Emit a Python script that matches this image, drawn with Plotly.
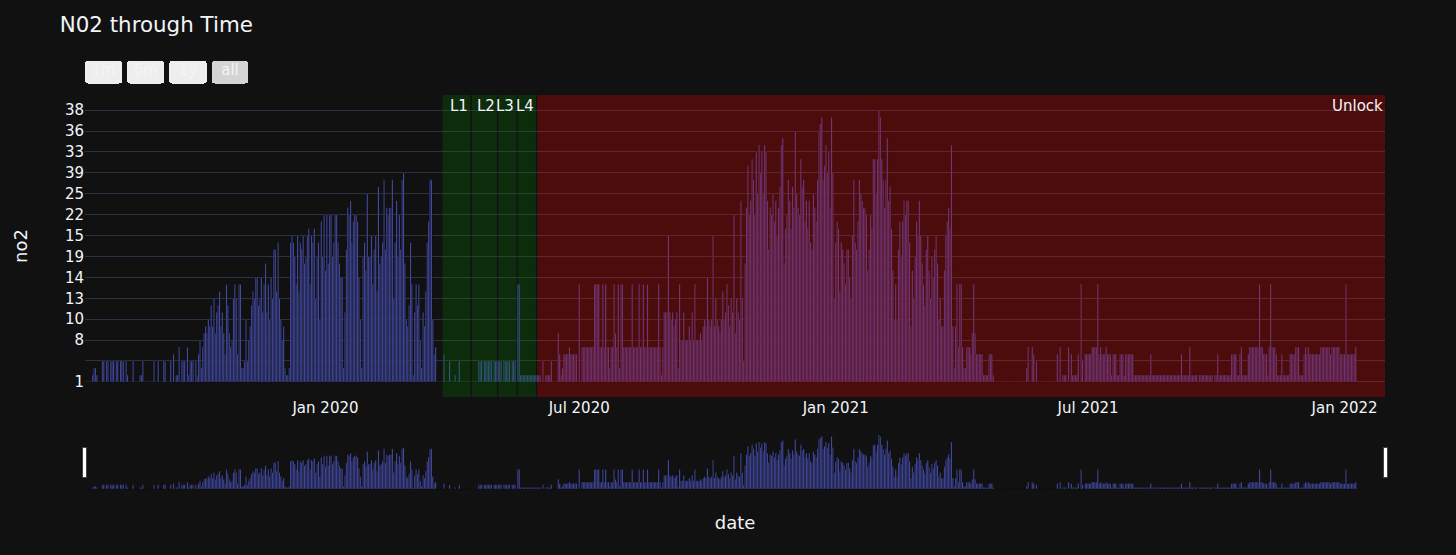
import pandas as pd
import plotly.graph_objects as go

# y categories in order of first appearance (category axis); index 3 is a blank category
categories = ["1", "2", "4", " ", "5", "6", "8", "7", "9", "10", "11", "12", "13", "16",
              "17", "14", "18", "20", "19", "21", "23", "15", "24", "26", "22", "27", "28",
              "25", "29", "30", "39", "31", "32", "33", "34", "35", "36", "37", "40", "38"]

start_date = "2019-07-13"

# daily no2 readings, stored as category index
no2_idx = [
    0,0,0,0,0,1,2,2,1,0, 0,0,3,3,0,3,3,0,3,3, 3,0,3,3,0,3,3,3,0,3, 1,0,0,0,3,0,0,0,0,1,
    1,3,0,0,0,0,0,0,0,3, 0,0,3,0,0,0,3,3,0,0, 0,3,0,4,0,1,1,5,0,3, 3,3,0,5,1,3,3,3,0,3,
    1,4,6,2,5,7,8,7,9,8, 11,8,12,7,10,11,13,8,10,7, 4,14,11,7,5,6,12,14,12,4,
    14,14,2,2,3,9,3,6,8,11, 13,12,15,15,11,12,15,10,14,17, 10,14,9,15,12,19,19,13,20,12,
    9,6,8,2,1,1,2,20,21,20, 18,14,21,13,20,19,21,17,18,21, 22,14,21,20,22,12,18,20,9,23,
    18,24,16,24,17,24,24,18,20,24, 24,20,17,15,15,2,10,19,25,24, 26,20,23,24,24,23,15,9,2,18,
    20,16,27,18,18,21,14,19,21,13, 28,17,18,20,29,19,25,24,25,25, 29,12,20,26,18,24,19,29,30,17,
    9,8,11,20,14,1,10,14,11,14, 6,2,10,8,13,20,23,29,29,9, 4,5,0,0,0,0,0,4,0,0,
    0,3,0,0,0,1,0,0,3,0, 0,0,0,0,0,0,0,0,0,0, 0,0,3,3,3,0,3,3,3,3,
    3,3,0,3,3,3,3,3,3,0, 3,3,3,3,3,0,3,3,3,0, 14,14,1,1,1,1,1,1,1,1,
    1,1,1,1,1,1,1,0,3,0, 1,1,1,1,3,0,0,0,0,7, 4,1,2,4,4,4,4,5,4,4,
    4,4,4,0,14,0,5,5,5,5, 5,5,5,5,5,14,14,14,14,5, 5,14,5,14,5,5,2,5,5,14,
    7,5,14,2,14,14,5,5,5,5, 5,5,14,5,5,5,5,14,5,5, 14,5,5,14,5,5,5,5,5,5,
    5,14,5,1,5,10,10,10,21,10, 9,10,8,9,10,2,14,6,6,10, 6,6,6,8,6,10,6,14,6,6,
    6,7,6,8,9,8,15,9,8,9, 21,8,12,9,8,7,9,13,9,10, 14,11,8,12,10,24,7,12,10,9,
    26,12,3,17,25,31,24,26,32,29, 24,33,27,34,30,33,27,34,33,26, 19,25,24,27,23,26,21,25,28,34,
    35,17,22,24,29,26,22,28,25,36, 27,25,24,32,28,29,23,26,22,26, 20,19,27,25,23,29,36,37,38,29,
    31,34,30,33,25,38,30,12,20,23, 22,13,20,19,17,14,19,19,15,12, 21,29,20,19,23,29,27,26,25,25,
    24,16,19,24,22,32,32,27,32,39, 38,32,29,25,29,35,26,28,22,16, 9,14,9,19,23,18,23,26,24,26,
    26,20,8,16,12,18,23,21,26,21, 17,14,11,19,21,16,12,18,15,19, 21,17,9,12,8,8,16,21,23,25,
    22,34,8,2,8,14,5,14,14,5, 2,2,5,5,5,4,7,14,7,4, 4,4,4,4,1,1,1,1,4,4,
    4,1,0,0,0,0,0,0,0,0, 0,0,0,0,0,0,0,0,0,0, 0,0,0,0,0,2,5,0,0,5,
    4,0,3,0,0,0,0,0,0,0, 0,0,0,0,0,0,0,4,0,5, 0,1,1,1,0,5,0,4,1,1,
    1,1,4,0,14,3,0,4,4,4, 4,4,5,5,5,5,14,4,5,4, 4,4,5,4,4,4,1,4,4,4,
    1,1,4,4,4,1,4,4,4,4, 4,4,1,1,1,1,1,1,1,1, 1,1,1,1,4,1,1,1,1,1,
    1,1,1,1,1,1,1,1,1,1, 1,1,1,1,1,1,4,1,1,1, 1,1,5,1,1,1,1,1,0,1,
    1,1,1,1,1,1,1,1,1,0, 1,1,4,1,1,1,1,1,1,1, 1,1,4,4,4,4,1,1,4,5,
    1,1,1,1,4,5,5,5,5,5, 5,5,14,5,5,4,4,4,1,5, 14,5,5,5,4,1,1,1,4,1,
    1,1,1,1,4,4,4,4,5,5, 5,1,1,1,4,5,4,5,4,4, 4,4,4,4,4,4,5,5,5,5,
    5,5,5,4,5,5,5,5,5,5, 4,4,4,4,14,4,4,4,4,4, 4,5,
]

# lockdown phases
phase_labels = ["L1", "L2", "L3", "L4", "Unlock"]
phase_starts = ["2020-03-25", "2020-04-15", "2020-05-04", "2020-05-18", "2020-06-01"]
phase_ends = ["2020-04-14", "2020-05-03", "2020-05-17", "2020-05-31", "2022-01-30"]
phase_colors = ["green", "green", "green", "green", "red"]

# range selector buttons (hair/thin spaces pad the button widths)
button_labels = ["\u200a1m\u200a", "\u200a6m\u200a", "\u2009\u200a1y\u2009\u200a",
                 "\u2009\u200aall\u2009\u200a"]

dates = pd.date_range(start_date, periods=len(no2_idx), freq="D")
no2 = [categories[i] for i in no2_idx]

fig = go.Figure(go.Bar(x=dates, y=no2, marker_color="#636efa"))

for lab, s, e, c in zip(phase_labels, phase_starts, phase_ends, phase_colors):
    fig.add_vrect(x0=s, x1=e, fillcolor=c, opacity=0.25, line_width=0,
                  annotation_text=lab)

fig.update_layout(
    template="plotly_dark",
    width=1456, height=555,
    font=dict(family="DejaVu Sans", size=15),
    title=dict(text="N02 through Time", x=0.041, xanchor="left",
               y=1 - 25 / 555, yanchor="middle", font=dict(size=21.4)),
    margin=dict(l=85, r=71, t=95, b=63),
    showlegend=False,
)
fig.update_xaxes(
    title_text="date", showgrid=False,
    rangeslider=dict(visible=True),
    rangeselector=dict(
        y=1.03,
        buttons=[
            dict(count=1, label=button_labels[0], step="month", stepmode="backward"),
            dict(count=6, label=button_labels[1], step="month", stepmode="backward"),
            dict(count=1, label=button_labels[2], step="year", stepmode="backward"),
            dict(step="all", label=button_labels[3]),
        ]),
)
fig.update_yaxes(title_text="no2", title_standoff=32, type="category",
                 categoryorder="array", categoryarray=categories)

fig.write_html("out.html")
